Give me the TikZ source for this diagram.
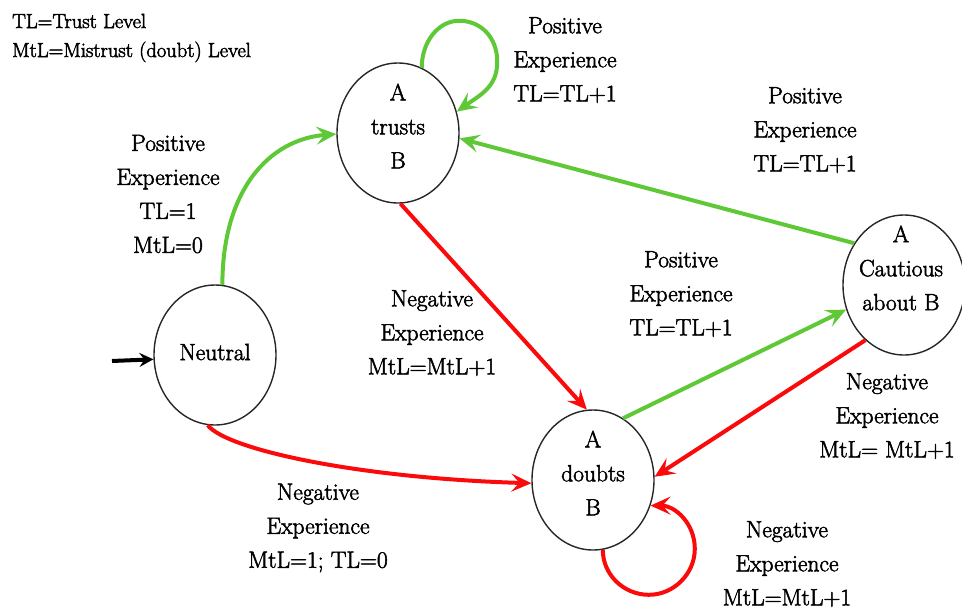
\documentclass[tikz,border=0pt]{standalone}
\usetikzlibrary{shapes.geometric,arrows.meta}
\definecolor{pgreen}{RGB}{95,200,55}
\definecolor{pred}{RGB}{250,10,10}
\newcommand\heavyon{\special{pdf:literal direct 2 Tr 0.5 w}}
\newcommand\heavyoff{\special{pdf:literal direct 0 Tr}}
\tikzset{
  state/.style={ellipse,draw=black!85,line width=1.4pt,minimum width=122pt,minimum height=140pt,inner sep=0pt},
  heavytext/.style={execute at begin node=\heavyon,execute at end node=\heavyoff},
  stxt/.style={heavytext,align=center,font=\fontsize{23.5}{34}\selectfont,inner sep=0pt},
  lbl/.style={heavytext,align=center,font=\fontsize{23.5}{34}\selectfont,inner sep=0pt},
  legend/.style={heavytext,anchor=base west,font=\fontsize{20.5}{29}\selectfont,inner sep=0pt},
  tip/.style={-{Stealth[length=20pt,width=18pt,inset=8pt]}},
  gedge/.style={tip,draw=pgreen,line width=4pt},
  redge/.style={tip,draw=pred,line width=4pt},
  bedge/.style={-{Stealth[length=14pt,width=14pt,inset=5pt]},draw=black,line width=4pt}
}
\begin{document}
\begin{tikzpicture}[x=1pt,y=-1pt]
\useasboundingbox (0,0) rectangle (962,614);
% states
\node[state] (t) at (398,133) {};
\node[state] (n) at (215,355) {};
\node[state] (d) at (593,480) {};
\node[state] (c) at (904,285) {};
\node[stxt] (tt) at (398,126) {A\\trusts\\B};
\node[stxt] (nt) at (215,352) {Neutral};
\node[stxt] (dt) at (593,473) {A\\doubts\\B};
\node[stxt] (ct) at (901,268) {A\\Cautious\\about B};
% legend
\node[legend] (lg1) at (12,28) {TL=Trust Level};
\node[legend] (lg2) at (12,57) {MtL=Mistrust (doubt) Level};
% edges
\coordinate (init) at (112,361);
\draw[bedge] (init) -- (n.184);
\draw[gedge] (n.84) .. controls +(0,-95) and +(-67,5) .. (t.181);
\draw[gedge] (t.70) .. controls +(0,-26) and +(-21,0) .. ++(37.5,-47)
                    .. controls +(21,0) and +(0,-25) .. ++(38,41)
                    .. controls +(0,25) and +(24,-17) .. (t.20);
\draw[gedge] (c.140) -- (t.-5);
\draw[redge] (t.-88) -- (d.95);
\draw[gedge] (d.64) -- (c.203);
\draw[redge] (c.235) -- (d.3);
\draw[redge] (n.-96) .. controls +(20,25) and +(-170,-5) .. (d.183);
\draw[redge] (d.-82) .. controls +(0,25) and +(-25,0) .. ++(46,45)
                     .. controls +(25,0) and +(0,25) .. ++(46,-46)
                     .. controls +(0,-25) and +(25,0) .. (d.-24);
% labels
\node[lbl] (l1) at (168,194) {Positive\\Experience\\TL=1\\MtL=0};
\node[lbl] (l2) at (565,60) {Positive\\Experience\\TL=TL+1};
\node[lbl] (l3) at (805,130) {Positive\\Experience\\TL=TL+1};
\node[lbl] (l4) at (681,294) {Positive\\Experience\\TL=TL+1};
\node[lbl] (l5) at (432,333) {Negative\\Experience\\MtL=MtL+1};
\node[lbl] (l6) at (887,416) {Negative\\Experience\\MtL= MtL+1};
\node[lbl] (l7) at (318,528) {Negative\\Experience\\MtL=1; TL=0};
\node[lbl] (l8) at (787,564) {Negative\\Experience\\MtL=MtL+1};
\end{tikzpicture}
\end{document}
